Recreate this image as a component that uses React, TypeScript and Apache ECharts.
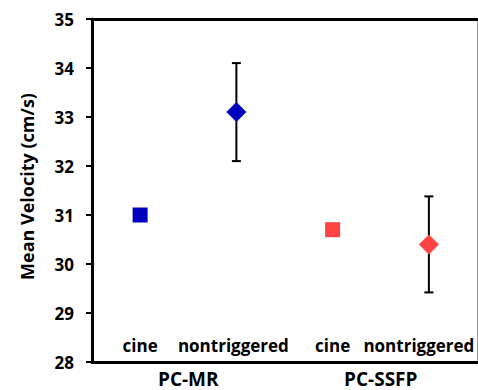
import React, { useEffect, useRef } from "react";
import * as echarts from "echarts";

const categories = ["cine", "nontriggered", "cine", "nontriggered"];
const groups = ["PC-MR", "PC-SSFP"];
const means = [31.0, 33.1, 30.7, 30.4];
const errors = [0, 1.0, 0, 0.98];
const symbols = ["rect", "diamond", "rect", "diamond"];
const colors = ["#0000C0", "#0000C0", "#FF4343", "#FF4343"];
const yTicks = { min: 28, max: 35, interval: 1 };

const FONT = "Open Sans";
const LABEL_SIZE = 17;

export default function App() {
  const ref = useRef<HTMLDivElement>(null);
  useEffect(() => {
    if (!ref.current) return;
    const chart = echarts.init(ref.current, undefined, { renderer: "svg" });
    const barData = means
      .map((m, i) => [i, m - errors[i], m + errors[i]])
      .filter((d, i) => errors[i] > 0);
    const txt = { fontFamily: FONT, fontWeight: "bold", fontSize: LABEL_SIZE, color: "#000" };
    chart.setOption({
      animation: false,
      grid: { left: 92, right: 1, top: 19, bottom: 28, containLabel: false },
      xAxis: [
        {
          type: "category",
          data: categories,
          position: "bottom",
          axisLine: { lineStyle: { color: "#000", width: 3 } },
          axisTick: { show: false },
          axisLabel: {
            inside: true,
            interval: 0,
            margin: 8,
            ...txt,
            formatter: (v: string, i: number) =>
              i === 1 ? "{a|" + v + "}" : i === 3 ? "{b|" + v + "}" : "{c|" + v + "}",
            rich: {
              a: { ...txt, padding: [0, 6, 0, 0] },
              b: { ...txt, padding: [0, 20, 0, 0] },
              c: { ...txt },
            },
          },
          splitLine: { show: false },
        },
        {
          type: "category",
          data: groups,
          position: "bottom",
          axisLine: { show: false },
          axisTick: { show: false },
          axisLabel: {
            interval: 0,
            margin: 7,
            ...txt,
            fontSize: 19,
            lineHeight: 19,
          },
          splitLine: { show: false },
        },
        {
          type: "category",
          data: categories,
          position: "top",
          axisLine: { lineStyle: { color: "#000", width: 3 } },
          axisTick: { show: false },
          axisLabel: { show: false },
          splitLine: { show: false },
        },
      ],
      yAxis: [
        {
          type: "value",
          min: yTicks.min,
          max: yTicks.max,
          interval: yTicks.interval,
          position: "left",
          name: "Mean Velocity (cm/s)",
          nameLocation: "middle",
          nameGap: 56,
          nameTextStyle: {
            ...txt,
            fontSize: 18,
            padding: [0, 0, 0, 8],
          },
          axisLine: { show: true, lineStyle: { color: "#000", width: 3 } },
          axisTick: { show: true, length: 6, lineStyle: { color: "#000", width: 2 } },
          axisLabel: {
            margin: 18,
            ...txt,
          },
          splitLine: { show: false },
        },
        {
          type: "value",
          min: yTicks.min,
          max: yTicks.max,
          interval: yTicks.interval,
          position: "right",
          axisLine: { show: true, lineStyle: { color: "#999", width: 1 } },
          axisTick: { show: false },
          axisLabel: { show: false },
          splitLine: { show: false },
        },
      ],
      series: [
        {
          type: "custom",
          xAxisIndex: 0,
          yAxisIndex: 0,
          z: 1,
          data: barData,
          renderItem: (params: any, api: any) => {
            const x = api.value(0);
            const lo = api.coord([x, api.value(1)]);
            const hi = api.coord([x, api.value(2)]);
            const cap = 4.5;
            const style = { stroke: "#000", lineWidth: 2 };
            return {
              type: "group",
              children: [
                { type: "line", shape: { x1: hi[0], y1: hi[1], x2: lo[0], y2: lo[1] }, style },
                { type: "line", shape: { x1: hi[0] - cap, y1: hi[1], x2: hi[0] + cap, y2: hi[1] }, style },
                { type: "line", shape: { x1: lo[0] - cap, y1: lo[1], x2: lo[0] + cap, y2: lo[1] }, style },
              ],
            };
          },
        },
        {
          type: "scatter",
          xAxisIndex: 0,
          yAxisIndex: 0,
          z: 3,
          data: means.map((m, i) => ({
            value: [i, m],
            symbol: symbols[i],
            symbolSize: symbols[i] === "rect" ? 15 : 20,
            itemStyle: { color: colors[i], opacity: 1 },
          })),
        },
      ],
    });
    return () => chart.dispose();
  }, []);
  return <div ref={ref} style={{ width: 478, height: 390, position: "absolute", left: 0, top: 0 }} />;
}
